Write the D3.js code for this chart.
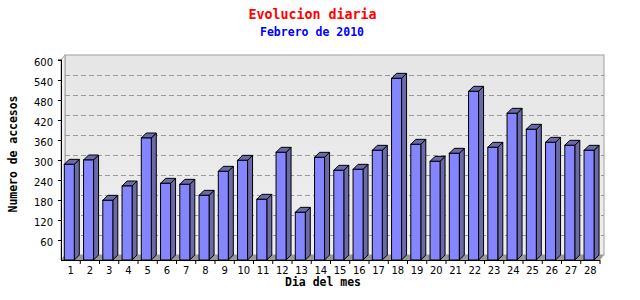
<!DOCTYPE html>
<html>
<head>
<meta charset="utf-8">
<script src="https://cdn.jsdelivr.net/npm/d3@7"></script>
<style>
  body { margin: 0; background: #fff; }
  svg { display: block; }
</style>
</head>
<body>
<div id="chart"></div>
<script>
// chart data
const days = d3.range(1, 29).map(String);
const visits = [287, 300, 179, 222, 366, 230, 227, 194, 266, 299, 182, 323, 143, 308,
                269, 272, 329, 545, 347, 296, 320, 506, 338, 440, 392, 353, 344, 329];
const yTicks = [60, 120, 180, 240, 300, 360, 420, 480, 540, 600];

const width = 640;
const height = 300;

// front plane of the plot and 3d depth
const plotLeft = 61, plotRight = 600, plotTop = 60, plotBottom = 260;
const dx = 4, dy = 5;      // wall depth
const bdx = 5, bdy = 5;    // bar depth

const svg = d3.select("#chart")
  .append("svg")
  .attr("width", width)
  .attr("height", height);

const x = d3.scaleBand().domain(days).range([plotLeft, plotRight]);
const y = d3.scaleLinear().domain([0, 600]).range([plotBottom, plotTop]);

// back wall gradient
const grad = svg.append("defs").append("linearGradient")
  .attr("id", "wall").attr("x1", 0).attr("y1", 0).attr("x2", 0).attr("y2", 1);
grad.append("stop").attr("offset", "0%").attr("stop-color", "#e6e6e6");
grad.append("stop").attr("offset", "100%").attr("stop-color", "#eeeeee");

// back wall
svg.append("rect")
  .attr("x", plotLeft + dx).attr("y", plotTop - dy)
  .attr("width", plotRight - plotLeft).attr("height", plotBottom - plotTop)
  .attr("fill", "url(#wall)")
  .attr("stroke", "#a0a0a0");

// left wall
svg.append("polygon")
  .attr("points", [[plotLeft, plotTop], [plotLeft + dx, plotTop - dy], [plotLeft + dx, plotBottom - dy], [plotLeft, plotBottom]].join(" "))
  .attr("fill", "#f2f2f2")
  .attr("stroke", "#a0a0a0");

// floor
svg.append("polygon")
  .attr("points", [[plotLeft, plotBottom], [plotRight, plotBottom], [plotRight + dx, plotBottom - dy], [plotLeft + dx, plotBottom - dy]].join(" "))
  .attr("fill", "#999999");

// dashed grid lines on the back wall
svg.append("g")
  .selectAll("line")
  .data(yTicks.filter(d => d < 600))
  .enter()
  .append("line")
  .attr("x1", plotLeft + dx).attr("x2", plotRight + dx)
  .attr("y1", d => y(d) - dy + 0.5).attr("y2", d => y(d) - dy + 0.5)
  .attr("stroke", "#999")
  .attr("stroke-dasharray", "5,3");

// bars
const barW = 10;
const bars = svg.append("g")
  .selectAll("g")
  .data(days.map((d, i) => ({ day: d, value: visits[i] })))
  .enter()
  .append("g");

bars.append("polygon") // side
  .attr("points", d => {
    const x1 = x(d.day) + 3.3 + barW, y1 = y(d.value);
    return [[x1, y1], [x1 + bdx, y1 - bdy], [x1 + bdx, plotBottom - bdy], [x1, plotBottom]].join(" ");
  })
  .attr("fill", "#6a6aa6").attr("stroke", "#000").attr("stroke-linejoin", "round");

bars.append("polygon") // top
  .attr("points", d => {
    const x0 = x(d.day) + 3.3, y1 = y(d.value);
    return [[x0, y1], [x0 + bdx, y1 - bdy], [x0 + barW + bdx, y1 - bdy], [x0 + barW, y1]].join(" ");
  })
  .attr("fill", "#6a6aa6").attr("stroke", "#000").attr("stroke-linejoin", "round");

bars.append("rect") // front
  .attr("x", d => x(d.day) + 3.3)
  .attr("y", d => y(d.value))
  .attr("width", barW)
  .attr("height", d => plotBottom - y(d.value))
  .attr("fill", "#8585ff").attr("stroke", "#000");

// y axis
const yAxis = svg.append("g")
  .attr("transform", `translate(${plotLeft},0)`)
  .call(d3.axisLeft(y).tickValues(yTicks).tickSize(3).tickPadding(5));
yAxis.select(".domain").attr("d", `M-3,${plotTop}H0.5V${plotBottom}`).attr("stroke", "#000");
yAxis.selectAll("text")
  .attr("font-family", "DejaVu Sans")
  .attr("font-size", 10)
  .attr("dy", "0.55em")
  .attr("fill", "#000");

// x axis
svg.append("line")
  .attr("x1", plotLeft).attr("x2", plotRight)
  .attr("y1", plotBottom + 0.5).attr("y2", plotBottom + 0.5)
  .attr("stroke", "#000");
svg.append("g")
  .selectAll("line")
  .data(days)
  .enter()
  .append("line")
  .attr("x1", d => x(d) + x.bandwidth()).attr("x2", d => x(d) + x.bandwidth())
  .attr("y1", plotBottom).attr("y2", plotBottom + 4)
  .attr("stroke", "#000");
svg.append("g")
  .selectAll("text")
  .data(days)
  .enter()
  .append("text")
  .attr("x", d => x(d) + x.bandwidth() / 2)
  .attr("y", 274)
  .attr("text-anchor", "middle")
  .attr("font-family", "DejaVu Sans")
  .attr("font-size", 10)
  .text(d => d);

// titles
svg.append("text")
  .attr("x", 312.5).attr("y", 19)
  .attr("text-anchor", "middle")
  .attr("font-family", "DejaVu Sans Mono").attr("font-weight", "bold")
  .attr("font-size", 14)
  .attr("textLength", 128).attr("lengthAdjust", "spacingAndGlyphs")
  .attr("fill", "#ff0000")
  .text("Evolucion diaria");

svg.append("text")
  .attr("x", 312).attr("y", 36)
  .attr("text-anchor", "middle")
  .attr("font-family", "DejaVu Sans Mono").attr("font-weight", "bold")
  .attr("font-size", 11.5)
  .attr("textLength", 104).attr("lengthAdjust", "spacingAndGlyphs")
  .attr("fill", "#0000ff")
  .text("Febrero de 2010");

svg.append("text")
  .attr("x", 323).attr("y", 286)
  .attr("text-anchor", "middle")
  .attr("font-family", "DejaVu Sans Mono").attr("font-weight", "bold")
  .attr("font-size", 12)
  .attr("textLength", 76).attr("lengthAdjust", "spacingAndGlyphs")
  .text("Dia del mes");

svg.append("text")
  .attr("transform", "translate(17,154) rotate(-90)")
  .attr("text-anchor", "middle")
  .attr("font-family", "DejaVu Sans Mono").attr("font-weight", "bold")
  .attr("font-size", 12)
  .attr("textLength", 117).attr("lengthAdjust", "spacingAndGlyphs")
  .text("Numero de accesos");
</script>
</body>
</html>
